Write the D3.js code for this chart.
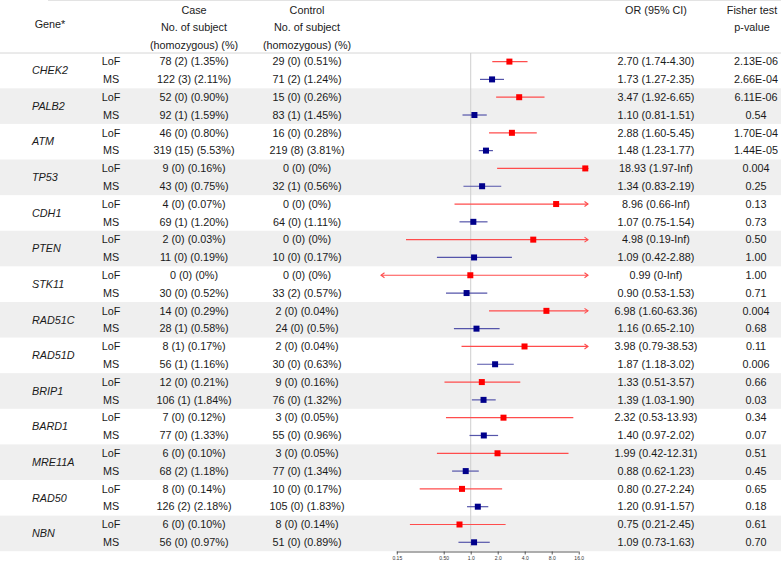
<!DOCTYPE html>
<html>
<head>
<meta charset="utf-8">
<script src="https://cdn.jsdelivr.net/npm/d3@7"></script>
<style>
  html, body { margin: 0; padding: 0; background: #fff; }
  svg { display: block; font-family: "Liberation Sans", Arial, Helvetica, sans-serif; }
</style>
</head>
<body>
<svg id="chart" width="781" height="563"></svg>
<script>
// ---------------- DATA ----------------
const genes = ["CHEK2","PALB2","ATM","TP53","CDH1","PTEN","STK11","RAD51C","RAD51D","BRIP1","BARD1","MRE11A","RAD50","NBN"];
const variantTypes = ["LoF","MS"];

// Case counts: [LoF, MS] per gene
const caseText = [
  ["78 (2) (1.35%)","122 (3) (2.11%)"],
  ["52 (0) (0.90%)","92 (1) (1.59%)"],
  ["46 (0) (0.80%)","319 (15) (5.53%)"],
  ["9 (0) (0.16%)","43 (0) (0.75%)"],
  ["4 (0) (0.07%)","69 (1) (1.20%)"],
  ["2 (0) (0.03%)","11 (0) (0.19%)"],
  ["0 (0) (0%)","30 (0) (0.52%)"],
  ["14 (0) (0.29%)","28 (1) (0.58%)"],
  ["8 (1) (0.17%)","56 (1) (1.16%)"],
  ["12 (0) (0.21%)","106 (1) (1.84%)"],
  ["7 (0) (0.12%)","77 (0) (1.33%)"],
  ["6 (0) (0.10%)","68 (2) (1.18%)"],
  ["8 (0) (0.14%)","126 (2) (2.18%)"],
  ["6 (0) (0.10%)","56 (0) (0.97%)"]
];
const controlText = [
  ["29 (0) (0.51%)","71 (2) (1.24%)"],
  ["15 (0) (0.26%)","83 (1) (1.45%)"],
  ["16 (0) (0.28%)","219 (8) (3.81%)"],
  ["0 (0) (0%)","32 (1) (0.56%)"],
  ["0 (0) (0%)","64 (0) (1.11%)"],
  ["0 (0) (0%)","10 (0) (0.17%)"],
  ["0 (0) (0%)","33 (2) (0.57%)"],
  ["2 (0) (0.04%)","24 (0) (0.5%)"],
  ["2 (0) (0.04%)","30 (0) (0.63%)"],
  ["9 (0) (0.16%)","76 (0) (1.32%)"],
  ["3 (0) (0.05%)","55 (0) (0.96%)"],
  ["3 (0) (0.05%)","77 (0) (1.34%)"],
  ["10 (0) (0.17%)","105 (0) (1.83%)"],
  ["8 (0) (0.14%)","51 (0) (0.89%)"]
];
// Odds ratios, in row order (gene LoF, gene MS, ...)
const orValue = [2.70,1.73, 3.47,1.10, 2.88,1.48, 18.93,1.34, 8.96,1.07, 4.98,1.09, 0.99,0.90, 6.98,1.16, 3.98,1.87, 1.33,1.39, 2.32,1.40, 1.99,0.88, 0.80,1.20, 0.75,1.09];
const ciLower = [1.74,1.27, 1.92,0.81, 1.60,1.23, 1.97,0.83, 0.66,0.75, 0.19,0.42, 0,0.53, 1.60,0.65, 0.79,1.18, 0.51,1.03, 0.53,0.97, 0.42,0.62, 0.27,0.91, 0.21,0.73];
const ciUpper = [4.30,2.35, 6.65,1.51, 5.45,1.77, Infinity,2.19, Infinity,1.54, Infinity,2.88, Infinity,1.53, 63.36,2.10, 38.53,3.02, 3.57,1.90, 13.93,2.02, 12.31,1.23, 2.24,1.57, 2.45,1.63];
const pValueText = ["2.13E-06","2.66E-04","6.11E-06","0.54","1.70E-04","1.44E-05","0.004","0.25","0.13","0.73","0.50","1.00","1.00","0.71","0.004","0.68","0.11","0.006","0.66","0.03","0.34","0.07","0.51","0.45","0.65","0.18","0.61","0.70"];
const tickValues = [0.15, 0.5, 1, 2, 4, 8, 16];
const tickLabels = ["0.15","0.50","1.0","2.0","4.0","8.0","16.0"];

// ---------------- LAYOUT ----------------
const W = 781, H = 563;
const FS = 10.8;
const textColor = "#1a1a1a";
const svg = d3.select("#chart");

const nRows = genes.length * 2;
const y = d3.scaleLinear().domain([0, nRows - 1]).range([61.6, 542.3]);
const x = d3.scaleLog().domain([0.1, 20.3]).range([381, 588]).clamp(true);

const fmt = v => v === Infinity ? "Inf" : (v === 0 ? "0" : v.toFixed(2));

// rows data
const rows = [];
genes.forEach((g, gi) => {
  variantTypes.forEach((t, ti) => {
    const r = gi * 2 + ti;
    rows.push({gene: g, gi, type: t, ti, r,
      caseT: caseText[gi][ti], ctrlT: controlText[gi][ti],
      or: orValue[r], lo: ciLower[r], hi: ciUpper[r], p: pValueText[r]});
  });
});

// shaded bands (alternate genes)
svg.append("g").selectAll("rect")
  .data(genes.map((g, gi) => gi).filter(gi => gi % 2 === 1))
  .join("rect")
  .attr("x", 0).attr("width", W)
  .attr("y", gi => y(gi * 2) - 8.9)
  .attr("height", gi => y(gi * 2 + 1) - y(gi * 2) + 17.8)
  .attr("fill", "#efefef");

// header lines
svg.append("line").attr("x1", 48).attr("x2", W).attr("y1", 0.5).attr("y2", 0.5)
  .attr("stroke", "#e3e3e3").attr("stroke-width", 1);
svg.append("line").attr("x1", 0).attr("x2", W).attr("y1", 53).attr("y2", 53)
  .attr("stroke", "#d6d6d6").attr("stroke-width", 1);

// headers
const hdr = svg.append("g").attr("fill", textColor).attr("font-size", FS).attr("text-anchor", "middle");
const hdrLines = [
  {x: 50, y: 24, t: "Gene*"},
  {x: 194, y: 10, t: "Case"}, {x: 194, y: 27.5, t: "No. of subject"}, {x: 194, y: 45, t: "(homozygous) (%)"},
  {x: 307, y: 10, t: "Control"}, {x: 307, y: 27.5, t: "No. of subject"}, {x: 307, y: 45, t: "(homozygous) (%)"},
  {x: 656, y: 10, t: "OR (95% CI)"},
  {x: 752, y: 10, t: "Fisher test"}, {x: 752, y: 27.5, t: "p-value"}
];
hdr.selectAll("text").data(hdrLines).join("text")
  .attr("x", d => d.x).attr("y", d => d.y).attr("dy", "0.35em").text(d => d.t);

// gene names
svg.append("g").selectAll("text").data(genes).join("text")
  .attr("x", 32).attr("y", (g, gi) => (y(gi * 2) + y(gi * 2 + 1)) / 2).attr("dy", "0.35em")
  .attr("font-size", FS).attr("font-style", "italic").attr("fill", textColor).text(g => g);

// row texts
const rowG = svg.append("g").attr("font-size", FS).attr("fill", textColor);
const cols = [
  {x: 111, anchor: "middle", f: d => d.type},
  {x: 194, anchor: "middle", f: d => d.caseT},
  {x: 307, anchor: "middle", f: d => d.ctrlT},
  {x: 656, anchor: "middle", f: d => `${fmt(d.or)} (${fmt(d.lo)}-${fmt(d.hi)})`},
  {x: 756, anchor: "middle", f: d => d.p}
];
cols.forEach(c => {
  rowG.append("g").selectAll("text").data(rows).join("text")
    .attr("x", c.x).attr("y", d => y(d.r)).attr("dy", "0.35em")
    .attr("text-anchor", c.anchor).text(c.f);
});

// reference line at OR = 1
svg.append("line").attr("x1", x(1)).attr("x2", x(1)).attr("y1", 53).attr("y2", 547)
  .attr("stroke", "#cfcfcf").attr("stroke-width", 1);

// forest plot
const colorOf = d => d.type === "LoF" ? "#ff0000" : "#00008b";
const lineColorOf = d => d.type === "LoF" ? "#ff4d4d" : "#5555aa";
const [dMin, dMax] = x.domain();
const fp = svg.append("g");
fp.selectAll("line.ci").data(rows).join("line").attr("class", "ci")
  .attr("x1", d => x(Math.max(d.lo, dMin))).attr("x2", d => x(Math.min(d.hi, dMax)))
  .attr("y1", d => y(d.r)).attr("y2", d => y(d.r))
  .attr("stroke", lineColorOf).attr("stroke-width", 1.2);
// arrows for truncated CIs
const arrows = [];
rows.forEach(d => {
  if (d.hi > dMax) arrows.push({d, side: 1});
  if (d.lo < dMin) arrows.push({d, side: -1});
});
fp.selectAll("path.arrow").data(arrows).join("path").attr("class", "arrow")
  .attr("d", a => {
    const xe = a.side > 0 ? x(dMax) : x(dMin), yy = y(a.d.r), s = a.side;
    return `M${xe - s * 3.5},${yy - 2.5}L${xe},${yy}L${xe - s * 3.5},${yy + 2.5}`;
  })
  .attr("fill", "none").attr("stroke", a => lineColorOf(a.d)).attr("stroke-width", 1.1);
fp.selectAll("rect.pt").data(rows).join("rect").attr("class", "pt")
  .attr("x", d => x(d.or) - 3).attr("y", d => y(d.r) - 3)
  .attr("width", 6).attr("height", 6).attr("fill", colorOf);

// axis
const axisY = 551.5;
const axis = d3.axisBottom(x).tickValues(tickValues)
  .tickFormat((v, i) => tickLabels[i]).tickSize(3).tickSizeOuter(0);
const ax = svg.append("g").attr("transform", `translate(0,${axisY})`).call(axis);
ax.select(".domain").remove();
ax.append("line").attr("x1", x(tickValues[0])).attr("x2", x(tickValues[tickValues.length - 1]))
  .attr("y1", 0.5).attr("y2", 0.5).attr("stroke", "#333").attr("stroke-width", 0.8);
ax.selectAll(".tick line").attr("stroke", "#333").attr("stroke-width", 0.8);
ax.selectAll(".tick text").attr("font-size", 5).attr("fill", "#333").attr("y", 5)
  .attr("font-family", "Liberation Sans, Arial, sans-serif");
</script>
</body>
</html>
